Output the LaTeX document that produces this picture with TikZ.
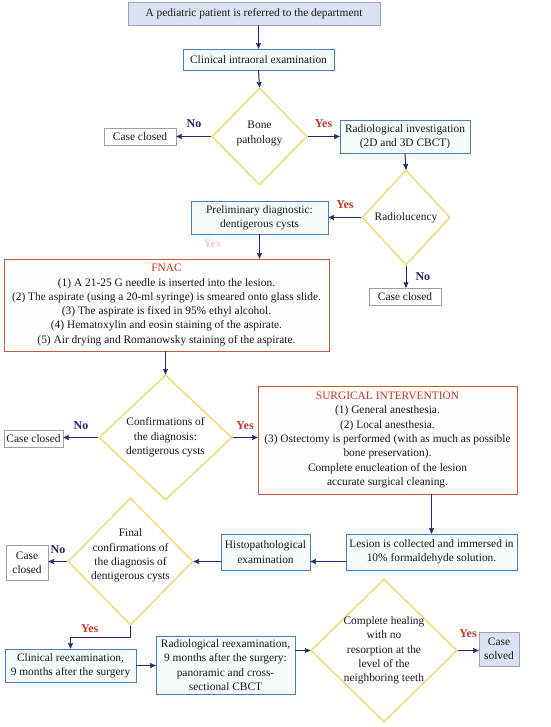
\documentclass[tikz,border=0pt]{standalone}
\usepackage{fontspec}
\setmainfont{Liberation Serif}
\usepackage{tikz}
\usetikzlibrary{arrows}
\usetikzlibrary{shapes.geometric}

\definecolor{arrowblue}{HTML}{1F2A6B}
\definecolor{boxblue}{HTML}{4A7EBB}
\definecolor{boxfill}{HTML}{F7FCFF}
\definecolor{topfill}{HTML}{DAE1F0}
\definecolor{topline}{HTML}{98A3C4}
\definecolor{boxred}{HTML}{B7603F}
\definecolor{redfill}{HTML}{FFFCFC}
\definecolor{yesred}{HTML}{C0392B}
\definecolor{diamondline}{HTML}{E3D65A}
\definecolor{closedline}{HTML}{A0A0A0}
\definecolor{ghostpink}{HTML}{F6CADA}

\begin{document}
\begin{tikzpicture}[x=1pt,y=-1pt,>=stealth',->,
	every node/.style={font=\fontsize{11.4}{14.3}\selectfont,align=center,inner sep=1pt,text=black!90},
	bluebox/.style={draw=boxblue,fill=boxfill,line width=0.9pt},
	topbox/.style={draw=topline,fill=topfill,line width=0.9pt},
	redbox/.style={draw=boxred,fill=redfill,line width=0.9pt},
	closedbox/.style={draw=closedline,fill=white,line width=0.8pt},
	decision/.style={diamond,draw=diamondline,line width=1.1pt,inner sep=0pt},
	flow/.style={draw=arrowblue,line width=1pt},
	nolabel/.style={text=arrowblue,font=\fontsize{12}{13}\selectfont\bfseries,text depth=0pt},
	yeslabel/.style={text=yesred,font=\fontsize{12}{13}\selectfont\bfseries,text depth=0pt}]
	\useasboundingbox (0,0) rectangle (550,727);
	% boxes and decisions
	\node[topbox,minimum width=252pt,minimum height=23pt](start)at(254,13.5){A pediatric patient is referred to the department};
	\node[bluebox,minimum width=151pt,minimum height=21pt](clinical)at(258.5,59.5){Clinical intraoral examination};
	\node[decision,minimum width=95pt,minimum height=97pt,label={[yshift=3pt]center:Bone\\pathology}](bone)at(259.5,136.5){};
	\node[closedbox,minimum width=72pt,minimum height=17pt](closedA)at(140,136.5){Case closed};
	\node[bluebox,minimum width=130pt,minimum height=33pt](radio)at(405,136.5){Radiological investigation\\(2D and 3D CBCT)};
	\node[decision,minimum width=88pt,minimum height=95pt,label={center:Radiolucency}](lucency)at(406,217.5){};
	\node[closedbox,minimum width=72pt,minimum height=17pt](closedB)at(405,296.5){Case closed};
	\node[bluebox,minimum width=137pt,minimum height=33pt](prelim)at(259.5,217.5){Preliminary diagnostic:\\dentigerous cysts};
	\node[yeslabel,text=ghostpink](ghostyes)at(212,244){Yes};
	\node[redbox,minimum width=325pt,minimum height=92pt](fnac)at(166.5,305){\textcolor{yesred}{FNAC}\\(1) A 21-25 G needle is inserted into the lesion.\\(2) The aspirate (using a 20-ml syringe) is smeared onto glass slide.\\(3) The aspirate is fixed in 95\% ethyl alcohol.\\(4) Hematoxylin and eosin staining of the aspirate.\\(5) Air drying and Romanowsky staining of the aspirate.};
	\node[decision,minimum width=133pt,minimum height=125pt,label={center:Confirmations of\\the diagnosis:\\dentigerous cysts}](confirm)at(165.5,437.5){};
	\node[closedbox,minimum width=59pt,minimum height=17pt](closedC)at(33.5,438.5){Case closed};
	\node[redbox,minimum width=259pt,minimum height=108pt](surgical)at(387.5,440){\textcolor{yesred}{SURGICAL INTERVENTION}\\(1) General anesthesia.\\(2) Local anesthesia.\\(3) Ostectomy is performed (with as much as possible\\bone preservation).\\Complete enucleation of the lesion\\accurate surgical cleaning.};
	\node[bluebox,minimum width=171pt,minimum height=36pt](lesion)at(431.5,552){Lesion is collected and immersed in\\10\% formaldehyde solution.};
	\node[bluebox,minimum width=89pt,minimum height=36pt](histo)at(265.5,552){Histopathological\\examination};
	\node[decision,minimum width=125pt,minimum height=127pt,label={[yshift=6pt]center:Final\\confirmations of\\the diagnosis of\\dentigerous cysts}](final)at(130.5,561.5){};
	\node[closedbox,minimum width=42pt,minimum height=35pt](closedD)at(27,562.5){Case\\closed};
	\node[bluebox,minimum width=131pt,minimum height=33pt](clinre)at(70.5,665.5){Clinical reexamination,\\9 months after the surgery};
	\node[bluebox,minimum width=139pt,minimum height=58pt](radre)at(225.5,665){Radiological reexamination,\\9 months after the surgery:\\panoramic and cross-\\sectional CBCT};
	\node[decision,minimum width=146pt,minimum height=143pt,label={center:Complete healing\\with no\\resorption at the\\level of the\\neighboring teeth}](healing)at(384,650.5){};
	\node[topbox,minimum width=40pt,minimum height=34pt](solved)at(499,649){Case\\solved};
	% connectors
	\draw[flow](start.south -| clinical.north)--(clinical.north);
	\draw[flow](clinical.south)--(bone.north);
	\draw[flow](bone.west)--node[nolabel,above=7pt]{No}(closedA.east);
	\draw[flow](bone.east)--node[yeslabel,above=7pt]{Yes}(radio.west);
	\draw[flow](radio.south)--(lucency.north);
	\draw[flow](lucency.west)--node[yeslabel,above=7pt]{Yes}(prelim.east);
	\draw[flow](lucency.south)--node[nolabel,right=8pt]{No}(lucency.south |- closedB.north);
	\draw[flow](prelim.south)--(prelim.south |- fnac.north);
	\draw[flow](fnac.south -| confirm.north)--(confirm.north);
	\draw[flow](confirm.west)--node[nolabel,above=7pt]{No}(confirm.west -| closedC.east);
	\draw[flow](confirm.east)--node[yeslabel,above=7pt]{Yes}(confirm.east -| surgical.west);
	\draw[flow](surgical.south -| lesion.north)--(lesion.north);
	\draw[flow](lesion.west |- final.east)--(histo.east |- final.east);
	\draw[flow](histo.west |- final.east)--(final.east);
	\draw[flow](final.west)--node[nolabel,above=7pt]{No}(final.west -| closedD.east);
	\draw[flow](final.south)--++(0,12)-|node[yeslabel,above=4pt,pos=0.34]{Yes}(clinre.north);
	\draw[flow](clinre.east)--(clinre.east -| radre.west);
	\draw[flow](radre.east |- healing.west)--(healing.west);
	\draw[flow](healing.east)--node[yeslabel,above=12pt]{Yes}(healing.east -| solved.west);
\end{tikzpicture}
\end{document}
